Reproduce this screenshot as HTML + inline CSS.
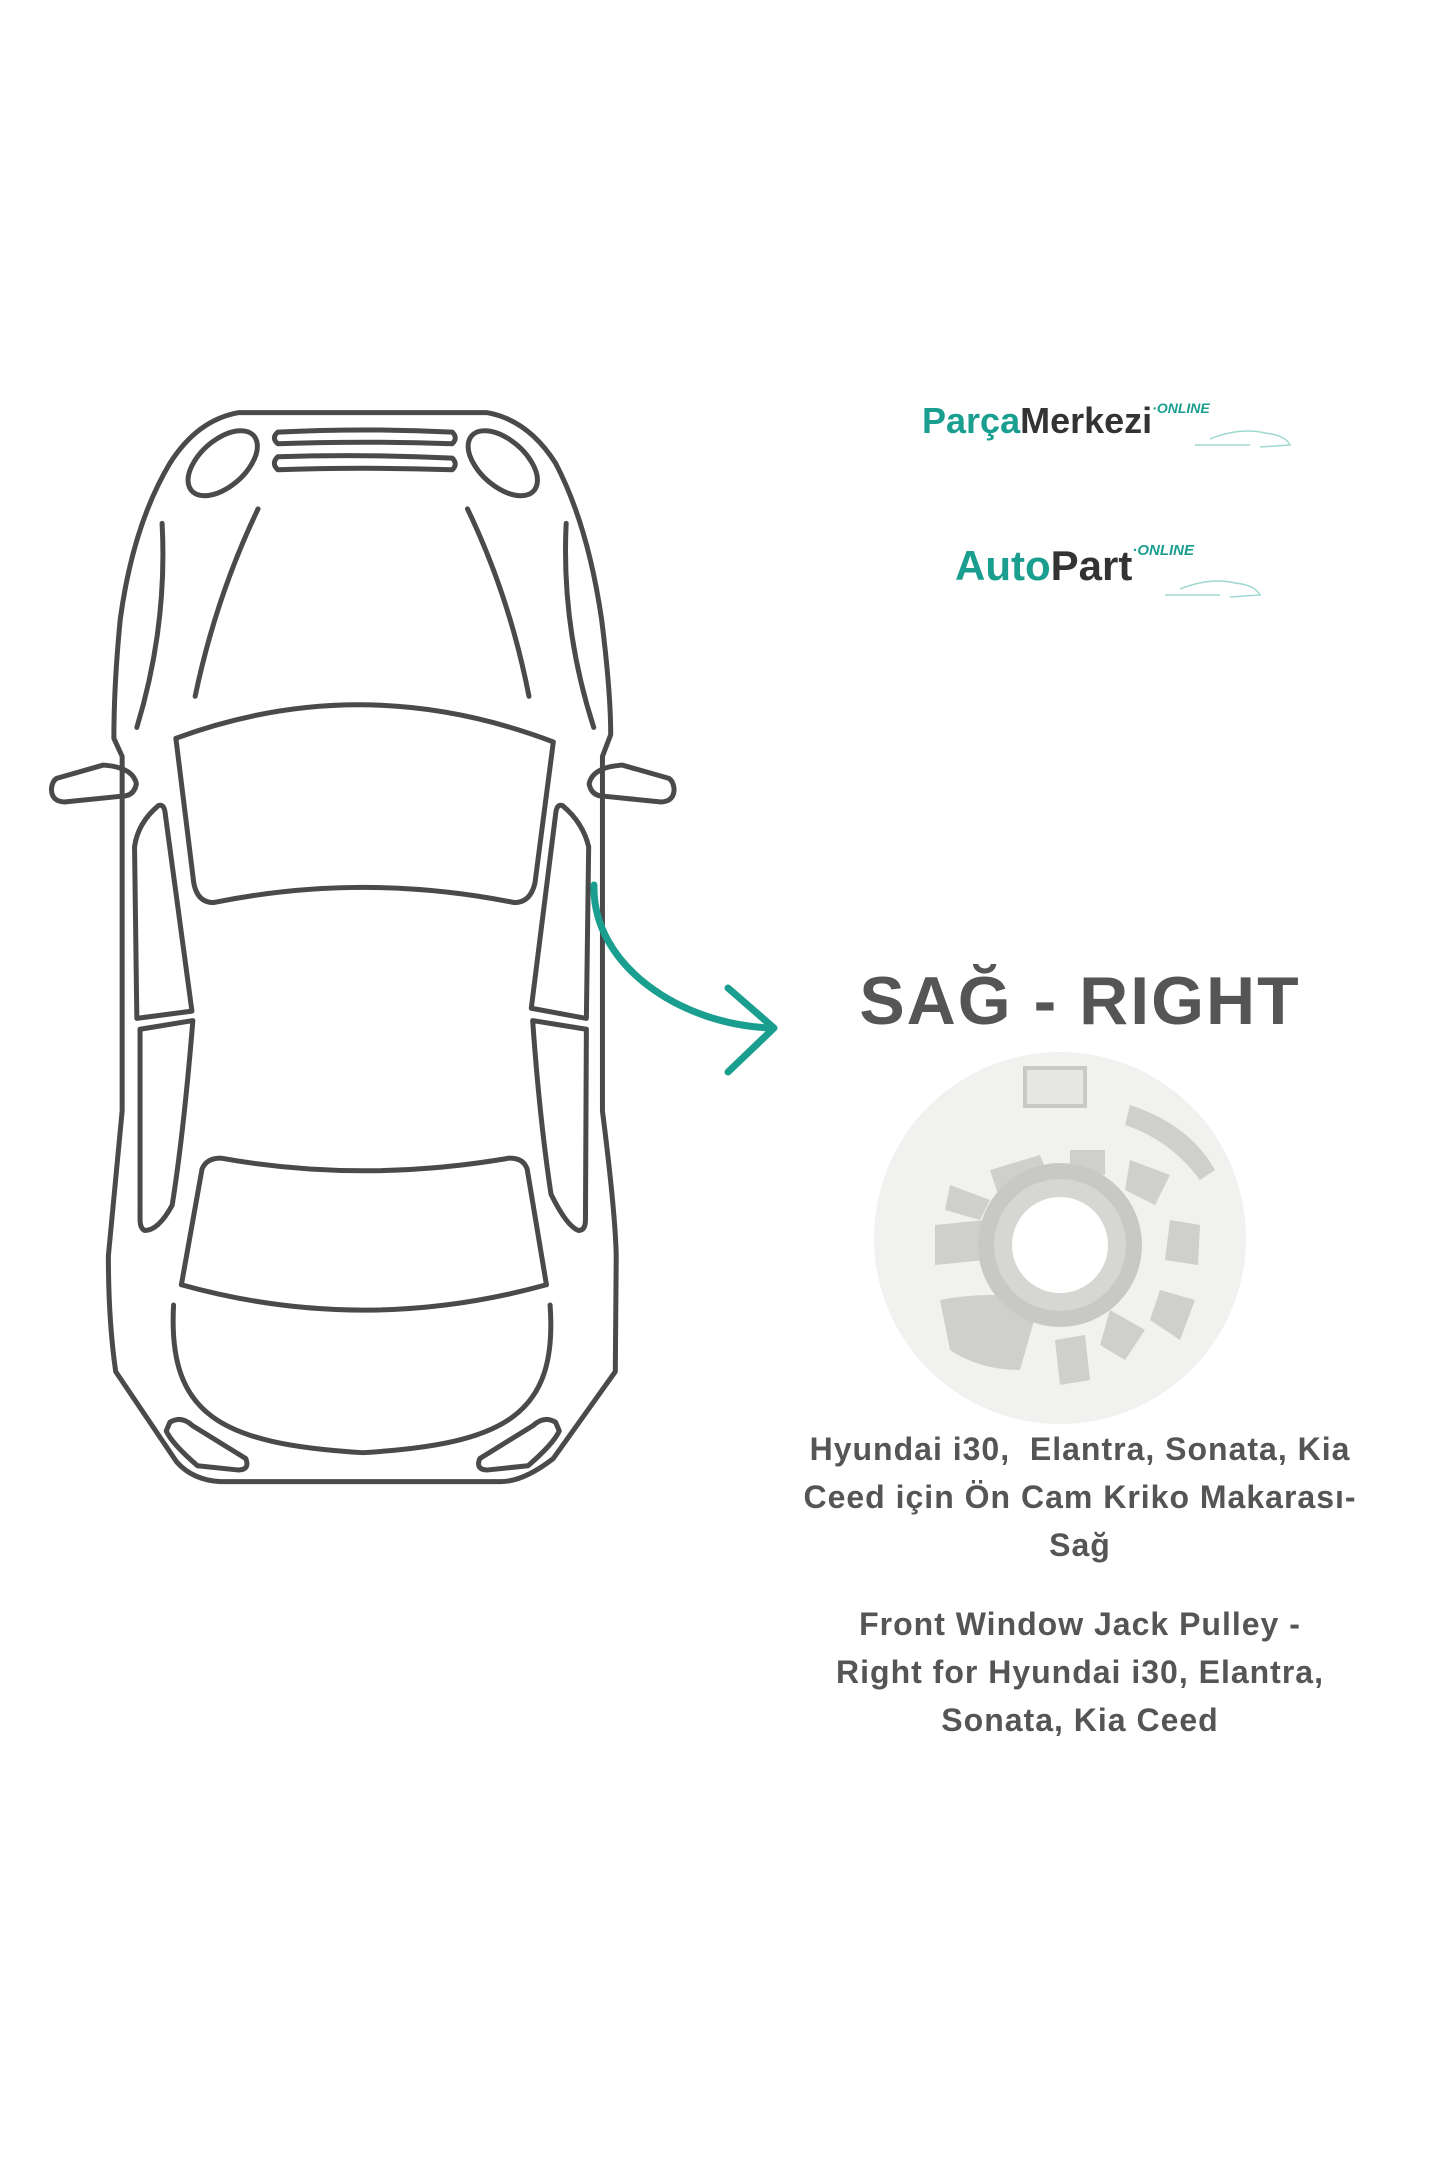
<!DOCTYPE html>
<html><head><meta charset="utf-8"><style>
body{margin:0;width:1440px;height:2160px;background:#fff;position:relative;overflow:hidden;font-family:"Liberation Sans",sans-serif}
.t{position:absolute;left:700px;width:760px;text-align:center;color:#555;font-weight:bold}
.p{position:absolute;font-weight:bold;white-space:nowrap}
</style></head><body>
<svg style="position:absolute;left:0;top:380px" width="720" height="1140" viewBox="0 0 1568 1575" preserveAspectRatio="none" fill="none" stroke="#4a4a4a" stroke-linejoin="round" stroke-linecap="round">
<g style="stroke-width:5px">
<path vector-effect="non-scaling-stroke" d="M520,45 L1060,45 Q1150,55 1210,115 Q1280,200 1310,330 Q1330,430 1330,490 L1312,520 L1312,1010 Q1340,1150 1342,1210 L1340,1370 L1205,1490 Q1140,1522 1090,1522 L480,1522 Q420,1520 385,1495 L252,1370 Q236,1300 236,1210 L266,1010 L266,520 L248,495 Q248,420 262,330 Q290,200 370,115 Q430,55 520,45 Z"/>
<ellipse vector-effect="non-scaling-stroke" cx="485" cy="115" rx="80" ry="36" transform="rotate(-22 485 115)"/>
<ellipse vector-effect="non-scaling-stroke" cx="1095" cy="115" rx="80" ry="36" transform="rotate(22 1095 115)"/>
<path vector-effect="non-scaling-stroke" d="M605,72 Q790,66 985,72 Q998,80 985,88 Q790,84 605,88 Q590,80 605,72 Z"/>
<path vector-effect="non-scaling-stroke" d="M605,106 Q790,102 985,108 Q998,116 985,124 Q790,120 605,124 Q590,115 605,106 Z"/>
<path vector-effect="non-scaling-stroke" d="M562,178 Q470,300 425,437"/>
<path vector-effect="non-scaling-stroke" d="M1018,178 Q1110,300 1152,437"/>
<path vector-effect="non-scaling-stroke" d="M353,198 Q365,340 298,480"/>
<path vector-effect="non-scaling-stroke" d="M1233,198 Q1222,340 1293,480"/>
<path vector-effect="non-scaling-stroke" d="M383,495 Q790,400 1205,500 L1165,695 Q1155,722 1120,722 Q790,680 465,722 Q430,722 422,695 Z"/>
<path vector-effect="non-scaling-stroke" d="M345,588 Q358,585 360,600 L418,872 L298,882 L293,645 Q300,612 345,588 Z"/>
<path vector-effect="non-scaling-stroke" d="M305,897 L420,885 Q400,1040 375,1140 Q345,1175 315,1175 Q305,1172 305,1160 Z"/>
<path vector-effect="non-scaling-stroke" d="M1225,588 Q1212,585 1210,600 L1157,868 L1277,882 L1282,645 Q1270,612 1225,588 Z"/>
<path vector-effect="non-scaling-stroke" d="M1160,885 L1277,897 L1275,1160 Q1275,1175 1260,1175 Q1235,1170 1200,1125 Q1175,1020 1160,885 Z"/>
<path vector-effect="non-scaling-stroke" d="M440,1090 Q450,1075 480,1075 Q790,1110 1110,1075 Q1140,1075 1148,1090 L1190,1250 Q790,1320 395,1250 Z"/>
<path vector-effect="non-scaling-stroke" d="M378,1278 C365,1430 480,1470 790,1482 C1100,1470 1215,1430 1198,1278"/>
<path vector-effect="non-scaling-stroke" d="M370,1440 Q395,1430 420,1445 L535,1490 Q545,1505 520,1506 L430,1500 Q375,1470 362,1452 Z"/>
<path vector-effect="non-scaling-stroke" d="M1210,1440 Q1185,1430 1160,1445 L1045,1490 Q1035,1505 1060,1506 L1150,1500 Q1205,1470 1218,1452 Z"/>
<path vector-effect="non-scaling-stroke" d="M125,550 L225,532 Q290,535 297,558 Q292,575 265,575 L140,583 Q112,582 112,565 Q114,553 125,550 Z"/>
<path vector-effect="non-scaling-stroke" d="M1455,550 L1355,532 Q1290,535 1283,558 Q1288,575 1315,575 L1440,583 Q1468,582 1468,565 Q1466,553 1455,550 Z"/>
</g></svg>
<svg style="position:absolute;left:0;top:0" width="1440" height="2160" fill="none" stroke="#1a9e8f" stroke-width="7" stroke-linecap="round" stroke-linejoin="round">
<path d="M594,885 C592,965 680,1025 772,1028"/>
<path d="M728,988 L774,1028 L728,1072"/>
</svg>
<div class="p" style="left:922px;top:400px;font-size:36px;color:#333"><span style="color:#1a9e8f">Parça</span>Merkezi<span style="font-size:14px;font-style:italic;color:#1a9e8f;vertical-align:top">·ONLINE</span></div>
<div class="p" style="left:955px;top:542px;font-size:42px;color:#333"><span style="color:#1a9e8f">Auto</span>Part<span style="font-size:15px;font-style:italic;color:#1a9e8f;vertical-align:top">·ONLINE</span></div>
<svg style="position:absolute;left:1190px;top:425px" width="110" height="30" fill="none" stroke="#9fd8d0" stroke-width="1.5"><path d="M5,20 L60,20 M20,14 Q50,2 75,8 Q95,10 100,20 L70,22"/></svg>
<svg style="position:absolute;left:1160px;top:575px" width="120" height="30" fill="none" stroke="#9fd8d0" stroke-width="1.5"><path d="M5,20 L60,20 M20,14 Q50,2 75,8 Q95,10 100,20 L70,22"/></svg>
<div class="t" style="top:962px;left:700px;font-size:68px;letter-spacing:2px;color:#555">SAĞ - RIGHT</div>
<svg style="position:absolute;left:870px;top:1050px" width="380" height="380">
<circle cx="190" cy="188" r="186" fill="#f1f1ef"/>
<rect x="155" y="18" width="60" height="38" fill="#e6e6e4" stroke="#c9c9c5" stroke-width="4"/>
<g fill="#cfcfcb">
<path d="M120,120 L170,105 L180,130 L130,150 Z"/><path d="M200,100 L235,100 L235,125 L200,125 Z"/>
<path d="M260,110 L300,125 L285,155 L255,140 Z"/><path d="M300,170 L330,175 L328,215 L295,210 Z"/>
<path d="M65,175 L115,170 L115,210 L65,215 Z"/><path d="M80,135 L120,150 L110,170 L75,160 Z"/>
<path d="M290,240 L325,250 L310,290 L280,270 Z"/><path d="M240,260 L275,280 L255,310 L230,295 Z"/>
<path d="M70,250 Q120,240 170,250 L150,320 Q110,320 80,300 Z"/><path d="M185,290 L215,285 L220,330 L190,335 Z"/>
<path d="M260,55 Q320,75 345,120 L330,130 Q300,90 255,75 Z"/>
</g>
<circle cx="190" cy="195" r="82" fill="#c8c8c4"/>
<circle cx="190" cy="195" r="66" fill="#d6d6d2"/>
<circle cx="190" cy="195" r="48" fill="#fff"/>
</svg>
<div class="t" style="top:1425px;font-size:32px;line-height:48px;letter-spacing:1px">Hyundai i30,&nbsp; Elantra, Sonata, Kia<br>Ceed için Ön Cam Kriko Makarası-<br>Sağ</div>
<div class="t" style="top:1600px;font-size:32px;line-height:48px;letter-spacing:1px">Front Window Jack Pulley -<br>Right for Hyundai i30, Elantra,<br>Sonata, Kia Ceed</div>
</body></html>
